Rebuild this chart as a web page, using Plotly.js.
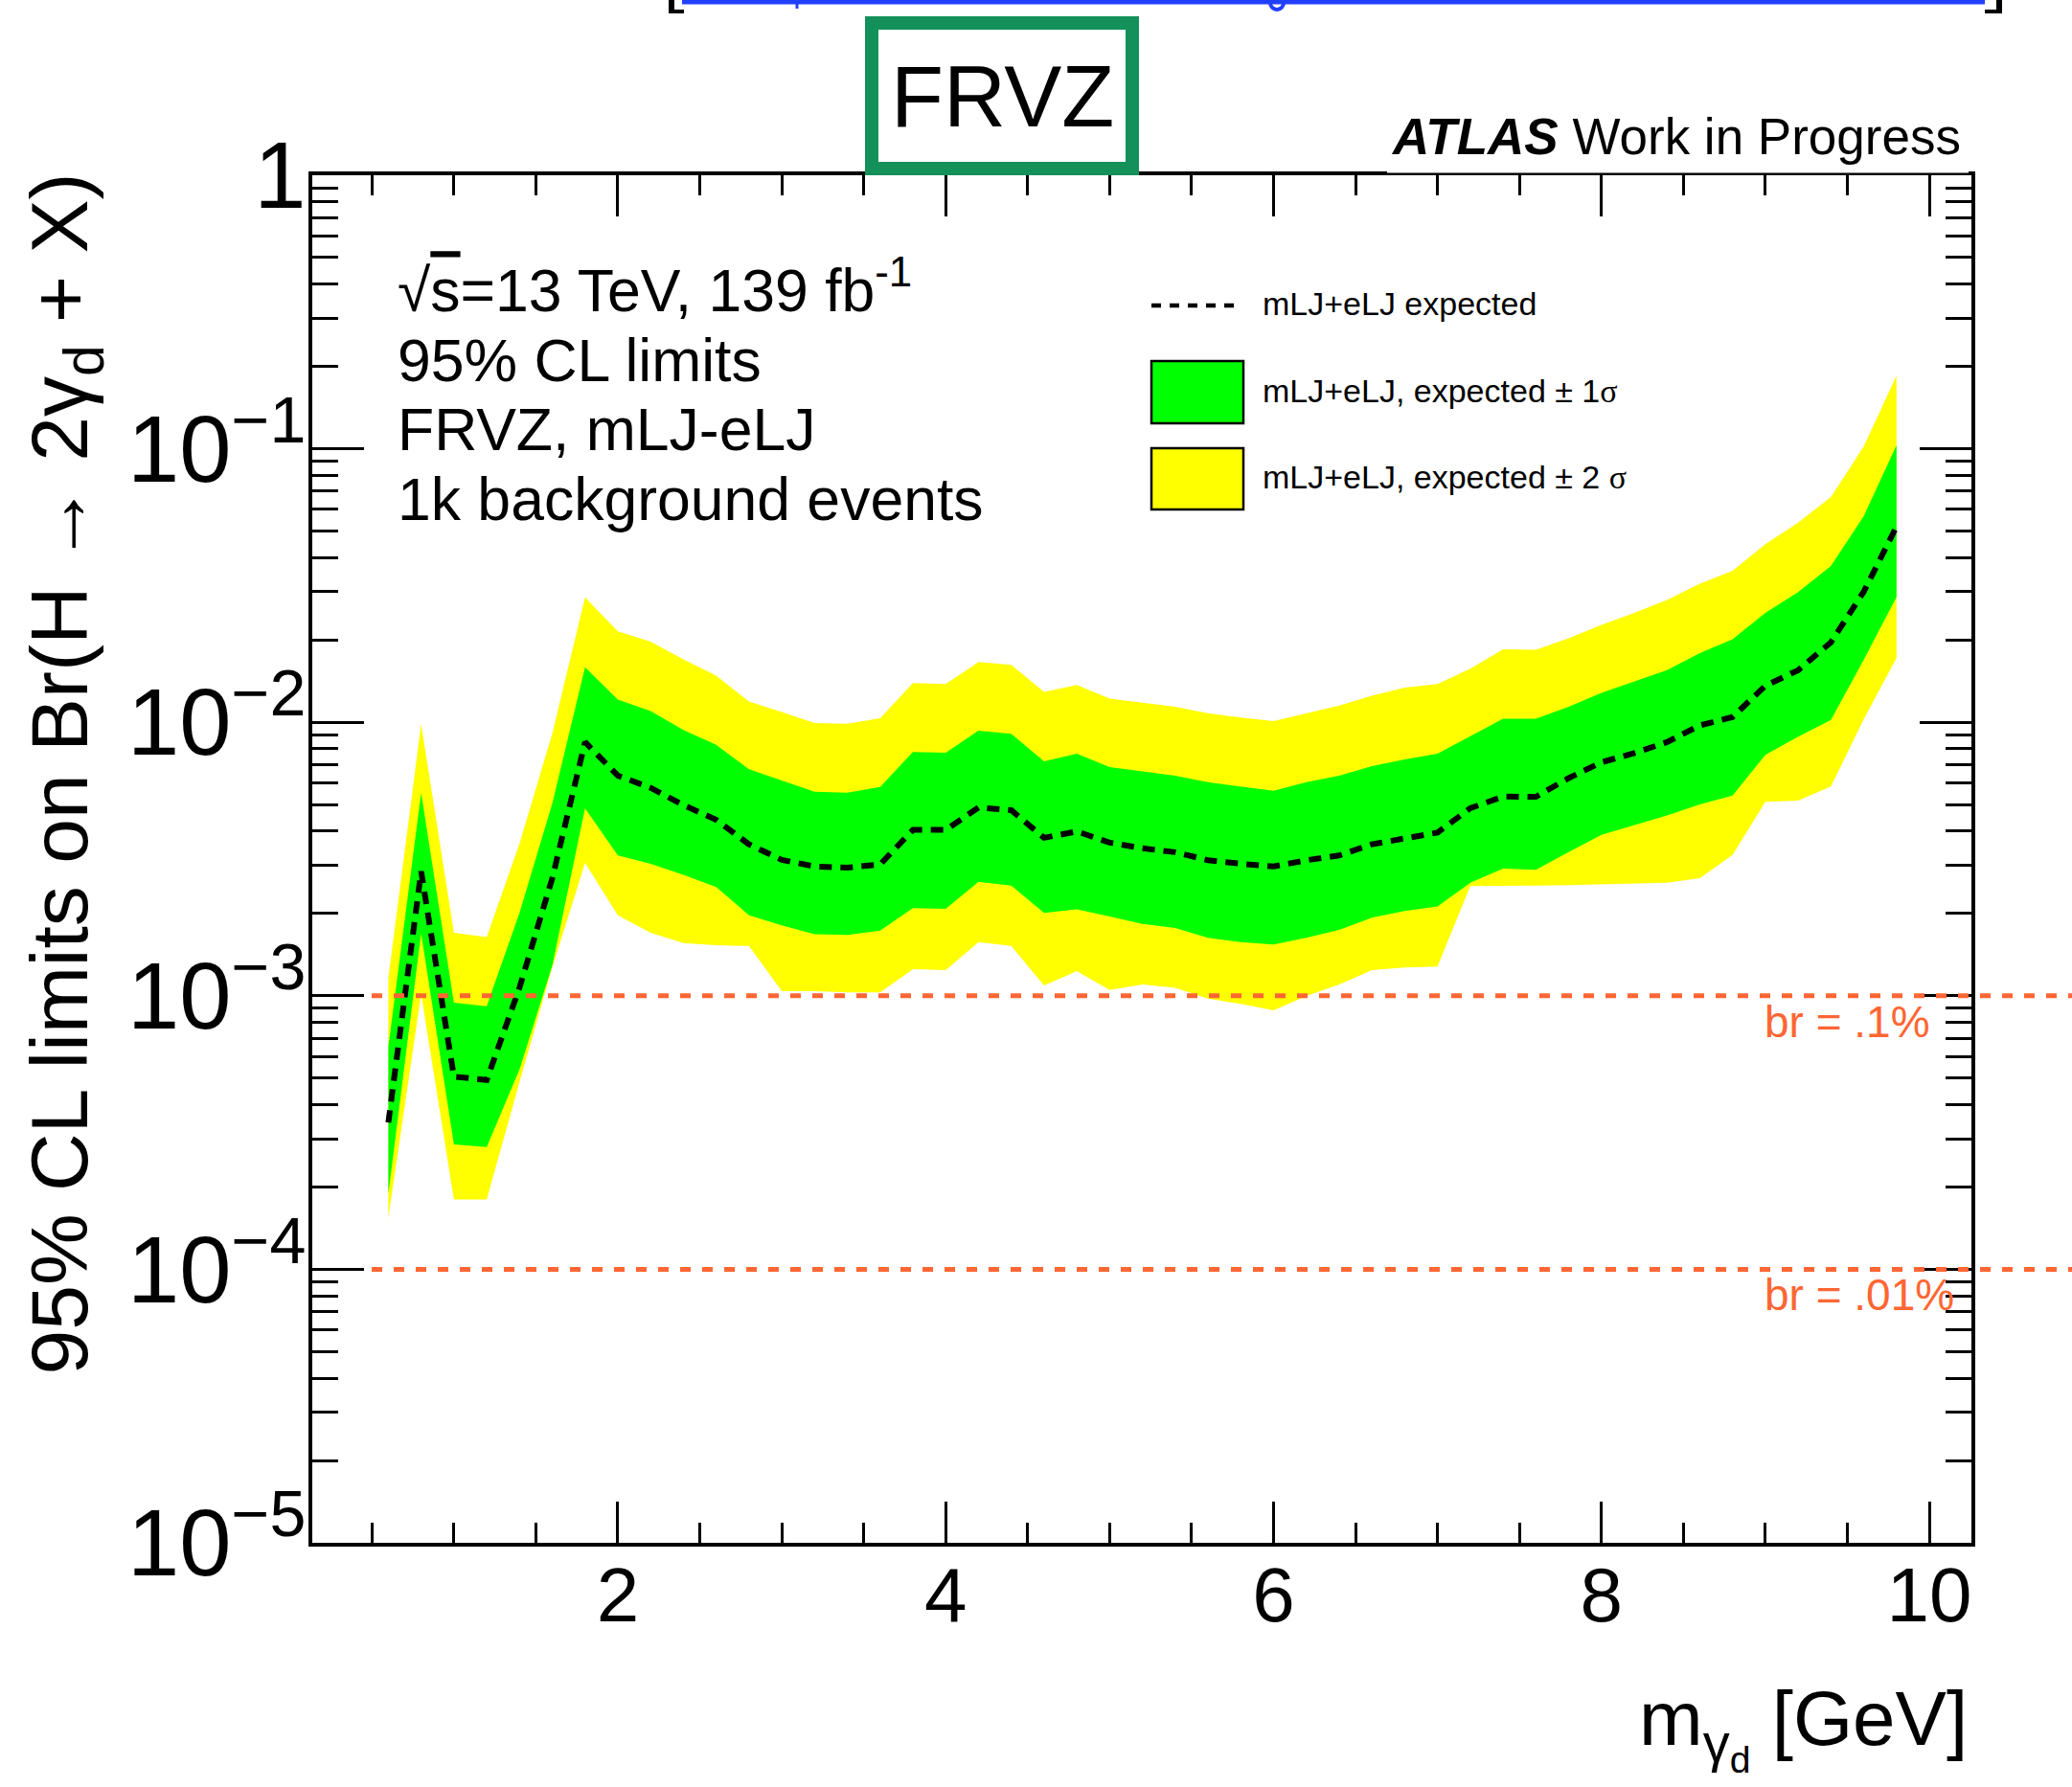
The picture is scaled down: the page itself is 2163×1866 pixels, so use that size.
<!DOCTYPE html>
<html>
<head>
<meta charset="utf-8">
<script src="https://cdn.plot.ly/plotly-3.0.1.min.js"></script>
<style>
html, body { margin: 0; padding: 0; background: #ffffff; }
#chart { width: 2163px; height: 1866px; }
</style>
</head>
<body>
<div id="chart"></div>
<script>
// ---------------- data ----------------
const massGeV = [0.6,0.8,1.0,1.2,1.4,1.6,1.8,2.0,2.2,2.4,2.6,2.8,3.0,3.2,3.4,3.6,3.8,4.0,4.2,4.4,4.6,4.8,5.0,5.2,5.4,5.6,5.8,6.0,6.2,6.4,6.6,6.8,7.0,7.2,7.4,7.6,7.8,8.0,8.2,8.4,8.6,8.8,9.0,9.2,9.4,9.6,9.8];

const expectedMedian = [3.44e-4,2.85e-3,5.06e-4,4.92e-4,1.07e-3,2.69e-3,8.46e-3,6.38e-3,5.76e-3,4.98e-3,4.40e-3,3.58e-3,3.14e-3,2.97e-3,2.94e-3,3.02e-3,4.04e-3,4.04e-3,4.88e-3,4.77e-3,3.78e-3,3.99e-3,3.63e-3,3.46e-3,3.35e-3,3.13e-3,3.04e-3,2.97e-3,3.13e-3,3.26e-3,3.58e-3,3.78e-3,3.95e-3,4.85e-3,5.35e-3,5.34e-3,6.25e-3,7.14e-3,7.71e-3,8.46e-3,9.74e-3,1.045e-2,1.36e-2,1.55e-2,1.96e-2,3.00e-2,5.19e-2];

const plus1Sigma = [6.50e-4,5.52e-3,9.44e-4,9.16e-4,2.01e-3,5.05e-3,1.59e-2,1.21e-2,1.10e-2,9.37e-3,8.27e-3,6.73e-3,6.13e-3,5.57e-3,5.53e-3,5.80e-3,7.78e-3,7.74e-3,9.32e-3,9.07e-3,7.20e-3,7.68e-3,6.86e-3,6.60e-3,6.38e-3,6.04e-3,5.83e-3,5.62e-3,6.04e-3,6.38e-3,6.91e-3,7.31e-3,7.68e-3,8.92e-3,1.03e-2,1.03e-2,1.14e-2,1.28e-2,1.41e-2,1.55e-2,1.79e-2,2.01e-2,2.51e-2,2.99e-2,3.73e-2,5.67e-2,1.03e-1];

const minus1Sigma = [1.89e-4,1.69e-3,2.86e-4,2.80e-4,5.38e-4,1.29e-3,4.85e-3,3.26e-3,3.04e-3,2.77e-3,2.50e-3,1.97e-3,1.81e-3,1.68e-3,1.67e-3,1.73e-3,2.09e-3,2.08e-3,2.61e-3,2.53e-3,2.01e-3,2.07e-3,1.95e-3,1.83e-3,1.77e-3,1.63e-3,1.57e-3,1.54e-3,1.63e-3,1.74e-3,1.93e-3,2.04e-3,2.12e-3,2.59e-3,2.92e-3,2.89e-3,3.35e-3,3.88e-3,4.20e-3,4.56e-3,5.01e-3,5.40e-3,7.60e-3,8.85e-3,1.02e-2,1.69e-2,2.87e-2];

const plus2Sigma = [1.16e-3,9.86e-3,1.70e-3,1.64e-3,3.60e-3,9.09e-3,2.86e-2,2.15e-2,1.97e-2,1.70e-2,1.48e-2,1.19e-2,1.09e-2,9.94e-3,9.88e-3,1.034e-2,1.39e-2,1.38e-2,1.66e-2,1.62e-2,1.29e-2,1.37e-2,1.22e-2,1.18e-2,1.14e-2,1.08e-2,1.04e-2,1.01e-2,1.08e-2,1.15e-2,1.25e-2,1.34e-2,1.38e-2,1.57e-2,1.85e-2,1.84e-2,2.03e-2,2.27e-2,2.51e-2,2.80e-2,3.21e-2,3.58e-2,4.48e-2,5.37e-2,6.66e-2,1.02e-1,1.85e-1];

const minus2Sigma = [1.54e-4,1.015e-3,1.80e-4,1.80e-4,4.83e-4,1.27e-3,3.06e-3,1.97e-3,1.70e-3,1.56e-3,1.53e-3,1.52e-3,1.04e-3,1.04e-3,1.03e-3,1.03e-3,1.25e-3,1.24e-3,1.57e-3,1.52e-3,1.09e-3,1.23e-3,1.05e-3,1.10e-3,1.07e-3,9.77e-4,9.34e-4,8.85e-4,9.98e-4,1.10e-3,1.24e-3,1.27e-3,1.28e-3,2.52e-3,2.53e-3,2.53e-3,2.54e-3,2.56e-3,2.57e-3,2.59e-3,2.69e-3,3.27e-3,5.12e-3,5.17e-3,5.83e-3,1.026e-2,1.72e-2];

const brLevels = [1e-3, 1e-4];
const brLabels = ['br = .1%', 'br = .01%'];

const legendLabels = ['mLJ+eLJ expected',
  'mLJ+eLJ, expected \u00b1 1<span style="font-family:\'Liberation Serif\',serif">\u03c3</span>',
  'mLJ+eLJ, expected \u00b1 2 <span style="font-family:\'Liberation Serif\',serif">\u03c3</span>'];
const infoLines = ['\u221a<span style="text-decoration:overline">s</span>=13 TeV, 139 fb<sup>-1</sup>', '95% CL limits', 'FRVZ, mLJ-eLJ', '1k background events'];

const xRange = [0.136, 10.257];
const yRangeLog = [-5, 0];

// ---------------- layout helpers (pixel -> paper) ----------------
const W = 2163, H = 1866;
const L = 326, R = 2058, T = 183, B = 1611;
const px = v => (v - L) / (R - L);
const py = v => (B - v) / (B - T);
const logPaper = v => (Math.log10(v) - yRangeLog[0]) / (yRangeLog[1] - yRangeLog[0]);
const FONT = 'Liberation Sans, Arial, Helvetica, sans-serif';
const NARROW = 'Liberation Sans Narrow, Arial Narrow, Liberation Sans, Arial, sans-serif';
const ORANGE = '#ff6633';

function band(upper, lower) {
  return {
    x: massGeV.concat(massGeV.slice().reverse()),
    y: upper.concat(lower.slice().reverse())
  };
}
const yBand = band(plus2Sigma, minus2Sigma);
const gBand = band(plus1Sigma, minus1Sigma);

const traces = [
  { x: yBand.x, y: yBand.y, type: 'scatter', mode: 'lines', fill: 'toself',
    fillcolor: '#ffff00', line: { width: 0, color: '#ffff00' }, hoverinfo: 'skip',
    name: 'mLJ+eLJ, expected \u00b1 2\u03c3', showlegend: false },
  { x: gBand.x, y: gBand.y, type: 'scatter', mode: 'lines', fill: 'toself',
    fillcolor: '#00ff00', line: { width: 0, color: '#00ff00' }, hoverinfo: 'skip',
    name: 'mLJ+eLJ, expected \u00b1 1\u03c3', showlegend: false },
  { x: massGeV, y: expectedMedian, type: 'scatter', mode: 'lines',
    line: { color: '#000000', width: 6, dash: '13px,9px' },
    name: 'mLJ+eLJ expected', showlegend: false }
];

const shapes = [];
// br reference lines (extend beyond the frame to the page edge, as in the reference)
brLevels.forEach(v => {
  shapes.push({ type: 'line', xref: 'paper', yref: 'paper', x0: px(388), x1: px(2163),
    y0: logPaper(v), y1: logPaper(v), layer: 'above',
    line: { color: ORANGE, width: 5, dash: '11px,12px' } });
});
// legend symbols
shapes.push({ type: 'line', xref: 'paper', yref: 'paper', x0: px(1202), x1: px(1297), y0: py(319), y1: py(319),
  line: { color: '#000', width: 4.5, dash: '10px,9px' } });
shapes.push({ type: 'rect', xref: 'paper', yref: 'paper', x0: px(1202), x1: px(1298), y0: py(377), y1: py(442),
  fillcolor: '#00ff00', line: { color: '#000', width: 2.5 } });
shapes.push({ type: 'rect', xref: 'paper', yref: 'paper', x0: px(1202), x1: px(1298), y0: py(468), y1: py(532),
  fillcolor: '#ffff00', line: { color: '#000', width: 2.5 } });
// white pave behind ATLAS label (partly hides the top frame line)
shapes.push({ type: 'rect', xref: 'paper', yref: 'paper', x0: px(1448), x1: px(2055), y0: py(100), y1: py(180.5),
  fillcolor: '#ffffff', line: { width: 0 }, layer: 'above' });
// FRVZ frame
shapes.push({ type: 'rect', xref: 'paper', yref: 'paper', x0: px(910), x1: px(1182), y0: py(24), y1: py(176),
  fillcolor: 'rgba(0,0,0,0)', line: { color: '#14905a', width: 14 }, layer: 'above' });
// cut-off remnants at the very top of the image
shapes.push({ type: 'line', xref: 'paper', yref: 'paper', x0: px(712), x1: px(2072), y0: py(2), y1: py(2),
  line: { color: '#2040ff', width: 5 } });
shapes.push({ type: 'line', xref: 'paper', yref: 'paper', x0: px(701), x1: px(701), y0: py(0), y1: py(14),
  line: { color: '#000', width: 6 } });
shapes.push({ type: 'line', xref: 'paper', yref: 'paper', x0: px(698), x1: px(714), y0: py(12), y1: py(12),
  line: { color: '#000', width: 4 } });
shapes.push({ type: 'line', xref: 'paper', yref: 'paper', x0: px(2087), x1: px(2087), y0: py(0), y1: py(14),
  line: { color: '#000', width: 6 } });
shapes.push({ type: 'line', xref: 'paper', yref: 'paper', x0: px(2072), x1: px(2090), y0: py(12), y1: py(12),
  line: { color: '#000', width: 4 } });
shapes.push({ type: 'line', xref: 'paper', yref: 'paper', x0: px(832), x1: px(832), y0: py(0), y1: py(9),
  line: { color: '#2040ff', width: 3 } });
shapes.push({ type: 'circle', xref: 'paper', yref: 'paper', x0: px(1326), x1: px(1340), y0: py(-4), y1: py(10),
  line: { color: '#2040ff', width: 4 } });

const annotations = [];
function addText(text, x, y, xanchor, yanchor, size, extra) {
  annotations.push(Object.assign({
    text: text, xref: 'paper', yref: 'paper', x: x, y: y, xanchor: xanchor, yanchor: yanchor,
    showarrow: false, font: { family: FONT, size: size, color: '#000' }
  }, extra || {}));
}
addText('FRVZ', px(1046.5), py(49), 'center', 'top', 90);
addText('<b><i>ATLAS</i></b> Work in Progress', px(2049), py(111), 'right', 'top', 53);
const infoBottoms = [340, 413, 485, 558];
infoLines.forEach((t, i) => addText(t, px(413), py(infoBottoms[i]), 'left', 'bottom', 62.5));
const legendBottoms = [338, 429, 519];
legendLabels.forEach((t, i) => addText(t, px(1316), py(legendBottoms[i]), 'left', 'bottom', 34));
const brBottoms = [1095, 1380];
brLabels.forEach((t, i) => addText(t, px(1840), py(brBottoms[i]), 'left', 'bottom', 46,
  { font: { family: FONT, size: 46, color: ORANGE } }));
// axis titles (ROOT style: right / top aligned)
addText('95% CL limits on Br(H \u2192 2\u03b3<sub>d</sub> + X)', px(67), py(179), 'center', 'top', 84, { textangle: -90 });
addText('m<sub>\u03b3<sub>d</sub></sub> [GeV]', px(2056), py(1748), 'right', 'top', 80);

const layout = {
  width: W, height: H,
  margin: { l: L, r: W - R, t: T, b: H - B, pad: 0 },
  paper_bgcolor: '#ffffff', plot_bgcolor: '#ffffff',
  showlegend: false,
  font: { family: FONT, color: '#000' },
  xaxis: {
    range: xRange, tickmode: 'linear', tick0: 0, dtick: 2,
    ticks: 'inside', ticklen: 43, tickwidth: 3, tickcolor: '#000',
    showline: true, linewidth: 4, linecolor: '#000', mirror: 'allticks',
    showgrid: false, zeroline: false,
    ticklabelstandoff: -18,
    tickfont: { family: FONT, size: 80, color: '#000' },
    minor: { tick0: 0, dtick: 0.5, ticks: 'inside', ticklen: 21, tickwidth: 3, tickcolor: '#000', showgrid: false }
  },
  yaxis: {
    type: 'log', range: yRangeLog, dtick: 1, exponentformat: 'power',
    ticks: 'inside', ticklen: 54, tickwidth: 3, tickcolor: '#000',
    showline: true, linewidth: 4, linecolor: '#000', mirror: 'allticks',
    showgrid: false, zeroline: false,
    ticklabelstandoff: -13,
    tickfont: { family: NARROW, size: 78, color: '#000' },
    minor: { dtick: 'D1', ticks: 'inside', ticklen: 27, tickwidth: 3, tickcolor: '#000', showgrid: false }
  },
  shapes: shapes,
  annotations: annotations
};

Plotly.newPlot('chart', traces, layout, { staticPlot: true, displayModeBar: false });
</script>
</body>
</html>
